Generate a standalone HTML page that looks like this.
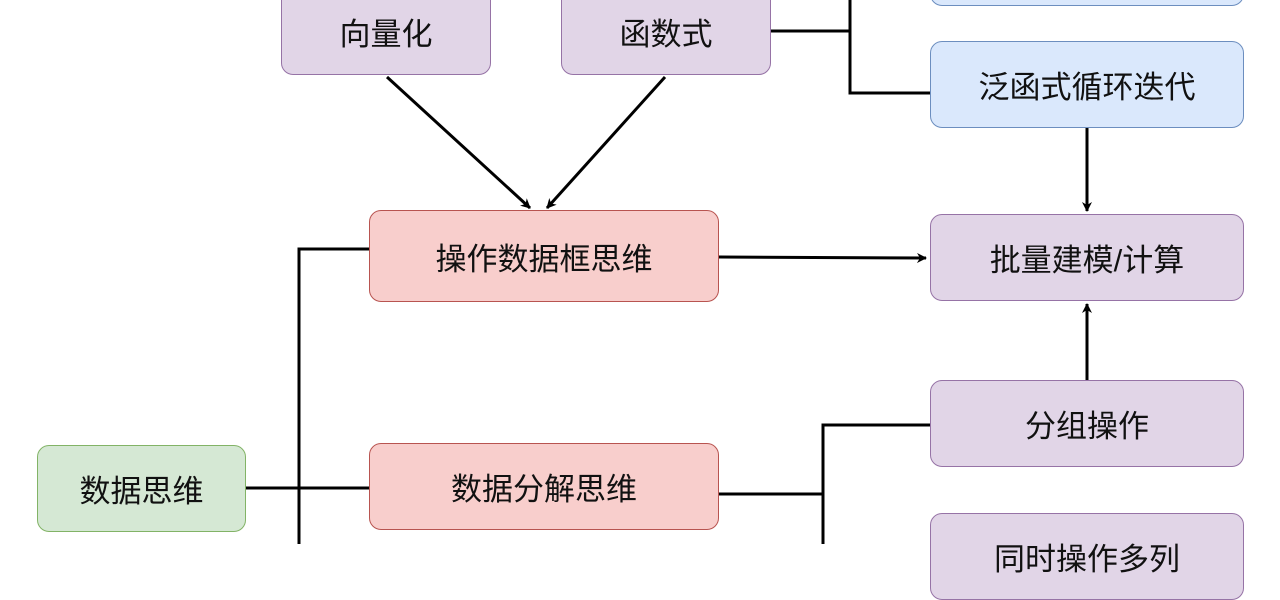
<!DOCTYPE html>
<html><head><meta charset="utf-8"><style>
body{margin:0;width:1280px;height:544px;overflow:hidden;background:#fff;position:relative;font-family:"Liberation Sans","Noto Sans CJK SC",sans-serif}
.b{position:absolute;box-sizing:border-box;border:1.5px solid;border-radius:12px;display:flex;align-items:center;justify-content:center;font-size:31px;color:#111}
.p{background:#e1d5e7;border-color:#9673a6}
.bl{background:#dae8fc;border-color:#6c8ebf}
.r{background:#f8cecc;border-color:#b85450}
.g{background:#d5e8d4;border-color:#82b366}
svg{position:absolute;left:0;top:0}
</style></head><body>
<svg width="1280" height="544">
<defs><marker id="a" markerWidth="10" markerHeight="10" refX="9" refY="5" orient="auto" markerUnits="userSpaceOnUse"><path d="M0,0 L10,5 L0,10 L3,5z" fill="#000"/></marker></defs>
<g stroke="#000" stroke-width="3" fill="none">
<polyline points="771,31 850,31"/>
<polyline points="850,0 850,93 930,93"/>
<line x1="387" y1="77" x2="530" y2="208" marker-end="url(#a)"/>
<line x1="665" y1="77" x2="547" y2="208" marker-end="url(#a)"/>
<line x1="719" y1="257" x2="926" y2="258" marker-end="url(#a)"/>
<line x1="1087" y1="128" x2="1087" y2="211" marker-end="url(#a)"/>
<line x1="1087" y1="380" x2="1087" y2="304" marker-end="url(#a)"/>
<polyline points="246,488 299,488"/>
<polyline points="369,249 299,249 299,544"/>
<polyline points="299,488 369,488"/>
<polyline points="719,494 823,494"/>
<polyline points="930,425 823,425 823,544"/>
</g></svg>
<div class="b p" style="left:281px;top:-12px;width:210px;height:87px">向量化</div>
<div class="b p" style="left:561px;top:-12px;width:210px;height:87px">函数式</div>
<div class="b bl" style="left:930px;top:-60px;width:314px;height:66px"></div>
<div class="b bl" style="left:930px;top:41px;width:314px;height:87px">泛函式循环迭代</div>
<div class="b r" style="left:369px;top:210px;width:350px;height:92px">操作数据框思维</div>
<div class="b p" style="left:930px;top:214px;width:314px;height:87px">批量建模/计算</div>
<div class="b p" style="left:930px;top:380px;width:314px;height:87px">分组操作</div>
<div class="b p" style="left:930px;top:513px;width:314px;height:87px">同时操作多列</div>
<div class="b r" style="left:369px;top:443px;width:350px;height:87px">数据分解思维</div>
<div class="b g" style="left:37px;top:445px;width:209px;height:87px">数据思维</div>
</body></html>
